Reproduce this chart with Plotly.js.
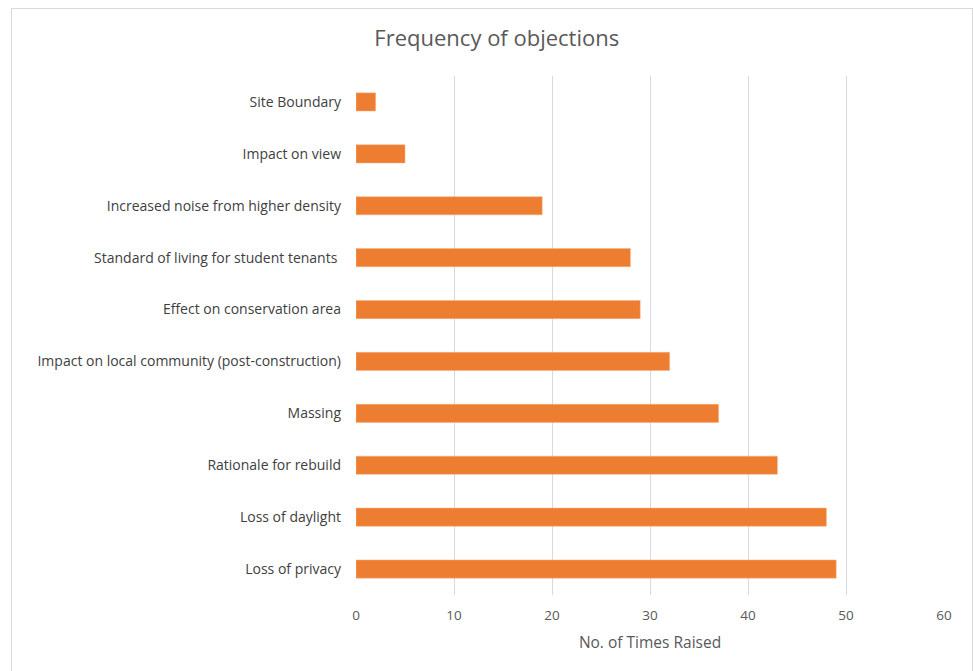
<!DOCTYPE html>
<html>
<head>
<meta charset="utf-8">
<script src="https://cdn.plot.ly/plotly-3.0.1.min.js"></script>
<style>
html,body{margin:0;padding:0;background:#fff;width:973px;height:671px;overflow:hidden;}
#frame{position:absolute;left:11px;top:8px;width:962px;height:663px;border:1px solid #d9d9d9;box-sizing:border-box;}
#chart{width:960px;height:662px;}
</style>
</head>
<body>
<div id="frame"><div id="chart"></div></div>
<script>
const categories = [
  "Site Boundary",
  "Impact on view",
  "Increased noise from higher density",
  "Standard of living for student tenants ",
  "Effect on conservation area",
  "Impact on local community (post-construction)",
  "Massing",
  "Rationale for rebuild",
  "Loss of daylight",
  "Loss of privacy"
];
const timesRaised = [2, 5, 19, 28, 29, 32, 37, 43, 48, 49];
const xTicks = [0, 10, 20, 30, 40, 50, 60];

const trace = {
  type: 'bar',
  orientation: 'h',
  y: categories,
  x: timesRaised,
  marker: {color: '#ED7D31', line: {color: '#F4B183', width: 0.5}},
  hoverinfo: 'x+y'
};

const layout = {
  width: 960,
  height: 662,
  paper_bgcolor: '#ffffff',
  plot_bgcolor: '#ffffff',
  font: {family: '"Open Sans", Lato, sans-serif', color: '#595959', size: 14},
  margin: {l: 344, r: 28, t: 67, b: 76},
  bargap: 0.65,
  showlegend: false,
  title: {
    text: 'Frequency of objections',
    font: {size: 22, color: '#595959'},
    xref: 'container', x: 0.505, xanchor: 'center',
    yref: 'container', y: 0.955, yanchor: 'middle'
  },
  xaxis: {
    range: [0, 60],
    tickvals: xTicks,
    ticktext: xTicks.map(String),
    showgrid: true,
    gridcolor: '#d9d9d9',
    gridwidth: 1,
    zeroline: false,
    showline: false,
    ticks: '',
    ticklabelstandoff: 10,
    tickfont: {size: 13.5, color: '#595959'},
    title: {text: 'No. of Times Raised', font: {size: 15.5, color: '#595959'}, standoff: 14}
  },
  yaxis: {
    type: 'category',
    autorange: 'reversed',
    showgrid: false,
    zeroline: false,
    showline: false,
    ticks: '',
    ticklabelstandoff: 14,
    tickfont: {size: 14, color: '#404040'}
  }
};

Plotly.newPlot('chart', [trace], layout, {displayModeBar: false, staticPlot: true});
</script>
</body>
</html>
